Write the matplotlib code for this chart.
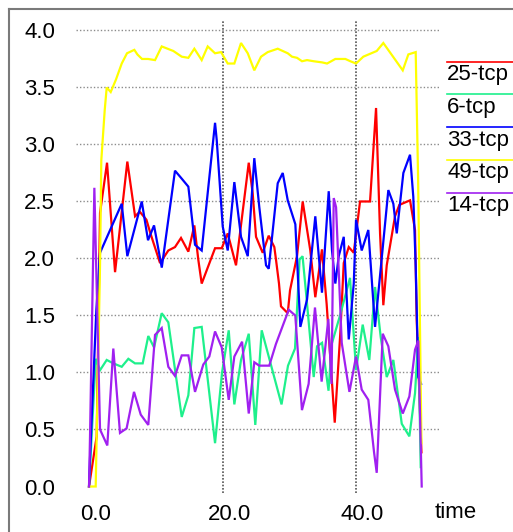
import matplotlib
matplotlib.use("Agg")
import matplotlib.pyplot as plt
from matplotlib.lines import Line2D
from matplotlib.transforms import ScaledTranslation

plt.rcParams["font.family"] = ["Liberation Sans", "DejaVu Sans"]

# series (time, value)
red_t = [0, 1.15, 1.65, 2.7, 3.9, 5.74, 6.9, 7.6, 8.6, 9.2, 10.14, 10.64, 11.88, 12.88, 13.78,
         14.88, 15.78, 16.37, 16.88, 18.88, 19.88, 20.78, 22.02, 23.93, 24.52, 25.02, 26.02,
         26.92, 27.76, 28.01, 28.46, 28.76, 29.77, 30.11, 31.16, 32.01, 33.15, 33.9, 34.9,
         35.6, 36.81, 37.65, 38.16, 38.91, 39.66, 40.6, 42.1, 43.0, 43.6, 44.09, 44.6, 45.84,
         46.49, 48.09, 48.84, 49.09, 49.8]
red_v = [0, 0.44, 2.4, 2.84, 1.88, 2.85, 2.37, 2.41, 2.34, 2.22, 2.05, 1.96, 2.07, 2.1, 2.18,
         2.06, 2.29, 1.99, 1.78, 2.09, 2.09, 2.22, 1.94, 2.84, 2.57, 2.19, 2.05, 2.2, 2.1,
         1.99, 1.78, 1.58, 1.52, 1.72, 2.02, 2.5, 2.07, 1.66, 2.08, 1.6, 0.56, 1.35, 1.96,
         2.1, 2.05, 2.5, 2.5, 3.32, 2.22, 1.59, 1.94, 2.37, 2.47, 2.51, 2.25, 1.46, 0.3]

green_t = [0, 1.0, 1.65, 2.65, 3.64, 4.9, 5.89, 6.89, 8.04, 8.88, 9.74, 10.89, 11.88, 13.89,
           14.88, 15.78, 16.88, 18.88, 19.93, 20.93, 21.77, 22.77, 23.93, 24.91, 25.87, 28.84,
           29.81, 30.86, 31.54, 31.99, 32.51, 33.66, 34.16, 34.91, 35.88, 36.36, 37.6, 39.1,
           40.0, 41.0, 41.99, 42.85, 43.7, 44.6, 45.59, 46.85, 47.99, 48.84, 49.33, 49.69]
green_v = [0, 1.12, 1.02, 1.11, 1.08, 1.05, 1.12, 1.08, 1.08, 1.32, 1.22, 1.52, 1.44, 0.61,
           0.8, 1.39, 1.40, 0.38, 1.0, 1.37, 0.72, 1.11, 1.34, 0.54, 1.37, 0.72, 1.06, 1.21,
           1.99, 2.02, 1.7, 0.96, 1.23, 1.26, 0.84, 1.25, 1.5, 1.83, 1.02, 1.42, 1.11, 1.75,
           1.31, 0.96, 1.11, 0.55, 0.44, 0.82, 1.31, 0.17]

blue_t = [0, 0.15, 1.1, 1.65, 4.9, 5.74, 7.9, 8.84, 9.74, 10.9, 12.88, 13.89, 14.88, 15.88,
          16.88, 18.88, 19.13, 20.03, 20.78, 21.77, 22.77, 23.78, 24.76, 25.51, 26.52, 26.92,
          28.27, 29.02, 29.77, 30.91, 31.66, 32.66, 33.9, 34.9, 35.91, 36.4, 36.9, 37.41,
          38.16, 38.91, 39.66, 40.0, 40.85, 41.84, 42.85, 44.84, 45.59, 46.1, 47.09, 48.09,
          48.58, 48.94, 49.33, 49.75]
blue_v = [0, 0.25, 1.55, 2.05, 2.48, 2.02, 2.5, 2.16, 2.29, 1.92, 2.77, 2.7, 2.63, 2.12, 2.07,
          3.19, 3.04, 2.28, 2.07, 2.67, 2.19, 2.02, 2.88, 2.45, 1.94, 1.91, 2.66, 2.75, 2.51,
          2.3, 1.4, 1.64, 2.37, 1.7, 2.59, 2.07, 1.78, 2.02, 2.19, 1.29, 1.78, 2.34, 2.07,
          2.25, 1.4, 2.6, 2.48, 2.22, 2.75, 2.91, 2.54, 1.93, 0.96, 0.9]

yellow_t = [0, 1.0, 1.65, 1.84, 2.35, 2.65, 3.25, 4.04, 4.9, 5.69, 6.79, 7.24, 7.94, 8.84, 9.89,
            10.89, 12.63, 13.89, 14.88, 15.78, 16.88, 17.78, 18.88, 19.78, 20.78, 21.77,
            22.77, 23.78, 24.76, 25.77, 26.77, 28.27, 29.77, 30.41, 31.16, 31.91, 32.66,
            33.66, 34.91, 35.66, 36.9, 38.4, 39.15, 40.0, 41.09, 43.1, 44.09, 47.0, 47.84,
            48.94, 49.3, 49.8]
yellow_v = [0, 0, 1.94, 2.86, 3.3, 3.5, 3.46, 3.57, 3.71, 3.80, 3.83, 3.79, 3.75, 3.75, 3.74,
            3.86, 3.82, 3.77, 3.76, 3.84, 3.74, 3.86, 3.80, 3.81, 3.71, 3.71, 3.89, 3.80,
            3.65, 3.77, 3.81, 3.84, 3.80, 3.77, 3.76, 3.73, 3.74, 3.73, 3.72, 3.71, 3.75,
            3.75, 3.73, 3.71, 3.77, 3.82, 3.89, 3.65, 3.79, 3.81, 2.7, 0.38]

purple_t = [0, 0.15, 0.8, 1.65, 2.74, 3.64, 4.64, 5.63, 6.74, 7.75, 8.88, 9.89, 10.89, 11.88,
            12.88, 13.89, 14.88, 15.88, 17.12, 18.02, 18.88, 19.88, 20.93, 21.77, 22.93,
            23.93, 24.76, 25.5, 27.0, 28.0, 29.92, 30.9, 31.9, 32.9, 33.85, 34.85, 35.85,
            36.33, 36.66, 37.01, 37.86, 39.01, 40.0, 40.85, 41.84, 42.7, 43.1, 44.0, 44.84,
            45.84, 47.0, 47.99, 48.84, 49.33, 49.84]
purple_v = [0, 0.44, 2.62, 0.5, 0.36, 1.21, 0.47, 0.51, 0.83, 0.63, 0.54, 1.33, 1.39, 1.05,
            0.97, 1.15, 1.15, 0.83, 1.07, 1.14, 1.36, 1.22, 0.76, 1.14, 1.27, 0.64, 1.09,
            1.06, 1.06, 1.25, 1.55, 1.5, 0.67, 0.9, 1.57, 0.92, 1.47, 0.9, 2.53, 2.45, 1.26,
            0.83, 1.14, 0.85, 0.76, 0.3, 0.12, 1.34, 1.23, 0.85, 0.64, 0.79, 1.2, 1.28, 0.0]

names = ["25-tcp", "6-tcp", "33-tcp", "49-tcp", "14-tcp"]
colors = ["#ff0000", "#1ef08c", "#0000ff", "#ffff00", "#a020f0"]
series = [(red_t, red_v), (green_t, green_v), (blue_t, blue_v),
          (yellow_t, yellow_v), (purple_t, purple_v)]

xticks = [0, 20, 40]
yticks = [0.0, 0.5, 1.0, 1.5, 2.0, 2.5, 3.0, 3.5, 4.0]

W, H = 513, 532
fig = plt.figure(figsize=(W / 100, H / 100), dpi=100)
ax = fig.add_axes([76 / W, 39 / H, 363 / W, 472 / H])

# grid, xgraph style
for y in yticks[1:]:
    ax.axhline(y, color="#8c8c8c", lw=1, ls=(0, (1, 1.5)), zorder=0)
for x in xticks[1:]:
    ax.axvline(x, color="#555555", lw=1.2, ls=(0, (1, 1)), zorder=0)

for (t, v), c in zip(series, colors):
    ax.plot(t, v, color=c, lw=1.6, solid_joinstyle="miter")

ax.set_xlim(-1.95, 52.43)
ax.set_ylim(-0.057, 4.083)
for s in ax.spines.values():
    s.set_visible(False)

ax.set_xticks(xticks)
ax.set_xticklabels(["%.1f" % x for x in xticks])
ax.set_yticks(yticks)
ax.set_yticklabels(["%.1f" % y for y in yticks])
ax.tick_params(axis="both", length=0, labelsize=16)
ax.tick_params(axis="y", pad=15)
ax.tick_params(axis="x", pad=8)
shift = ScaledTranslation(6.5 / 100, 0, fig.dpi_scale_trans)
for lab in ax.get_xticklabels():
    lab.set_transform(lab.get_transform() + shift)

fig.text(435 / W, 1 - 518 / H, "time", fontsize=16, va="baseline", ha="left")

# legend: colored line above each name
for i, (n, c) in enumerate(zip(names, colors)):
    yl = 61.7 + 32.75 * i
    fig.add_artist(Line2D([447 / W, 1], [1 - yl / H] * 2, color=c, lw=1.2))
    fig.text(447 / W, 1 - (yl + 2.5) / H, n, fontsize=16, va="top", ha="left")

# outer frame
fig.add_artist(Line2D([9 / W, 1], [1 - 8.7 / H] * 2, color="#7a7a7a", lw=1.5))
fig.add_artist(Line2D([9 / W, 9 / W], [0, 1 - 8.7 / H], color="#7a7a7a", lw=1.5))

fig.savefig("out.png", dpi=100)
